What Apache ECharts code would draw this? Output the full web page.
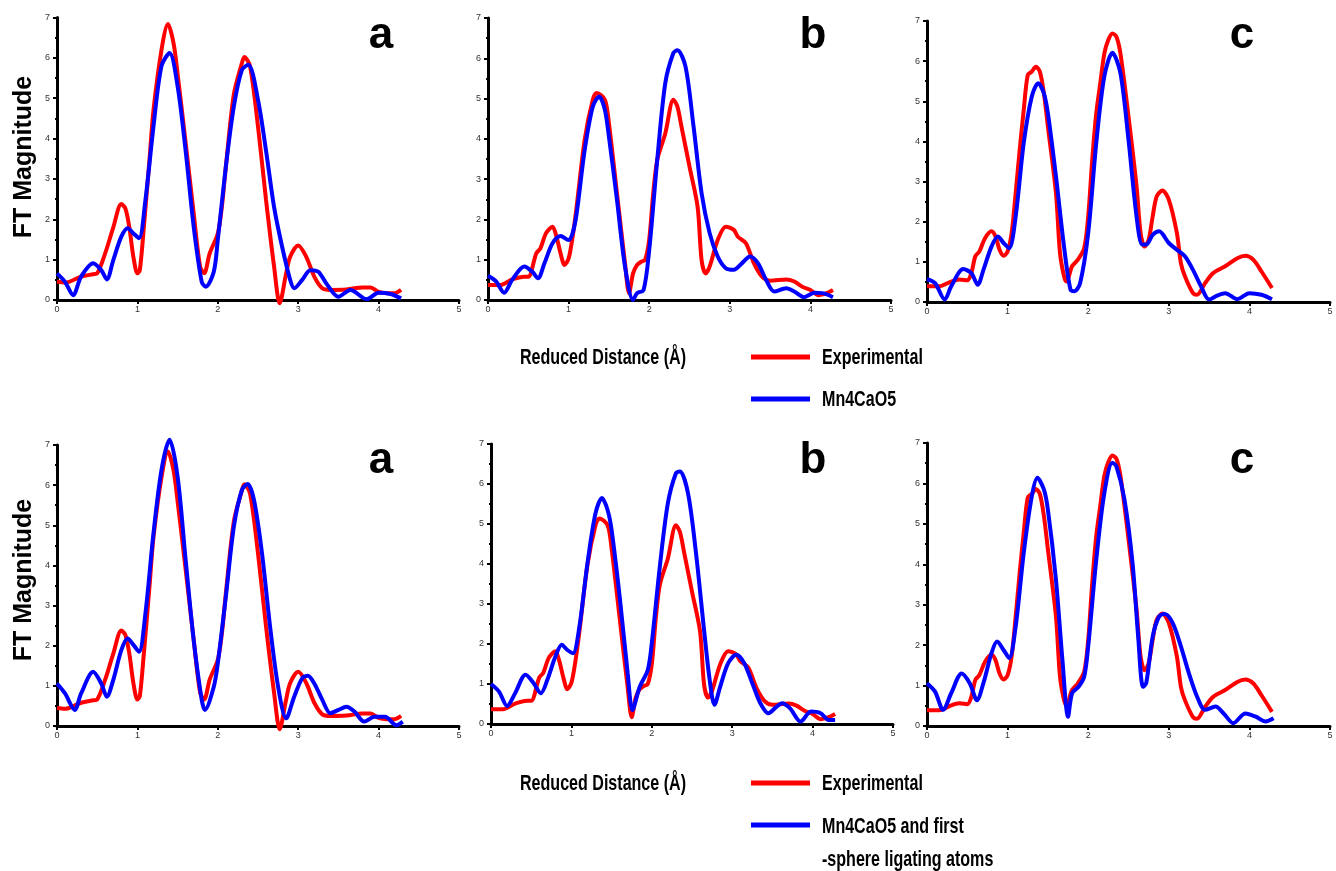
<!DOCTYPE html>
<html>
<head>
<meta charset="utf-8">
<script src="https://cdn.jsdelivr.net/npm/echarts@6/dist/echarts.min.js"></script>
<style>html,body{margin:0;padding:0;background:#fff;}#c{width:1336px;height:871px;}</style>
</head>
<body>
<div id="c"></div>
<script>
// ---- data (x = reduced distance in Å, y = FT magnitude) ----
var expA = [[0,0.45],[0.1,0.43],[0.3,0.58],[0.45,0.64],[0.5,0.66],[0.6,1.16],[0.7,1.8],[0.8,2.38],[0.85,2.27],[0.9,1.8],[0.95,1.07],[1.0,0.66],[1.03,0.74],[1.08,1.8],[1.15,3.47],[1.2,4.7],[1.3,6.2],[1.38,6.84],[1.45,6.36],[1.5,5.6],[1.6,3.9],[1.7,2.15],[1.78,0.83],[1.83,0.66],[1.9,1.16],[2.0,1.65],[2.05,2.3],[2.1,3.3],[2.2,5.1],[2.3,5.87],[2.33,6.02],[2.4,5.8],[2.5,4.3],[2.6,2.48],[2.7,0.83],[2.77,-0.08],[2.85,0.66],[2.9,1.07],[3.0,1.35],[3.1,1.07],[3.2,0.58],[3.3,0.29],[3.4,0.25],[3.6,0.26],[3.8,0.31],[3.9,0.31],[4.0,0.2],[4.1,0.17],[4.2,0.17],[4.28,0.25]];
var expB = [[0,0.37],[0.15,0.37],[0.3,0.51],[0.45,0.58],[0.5,0.58],[0.6,1.16],[0.65,1.28],[0.72,1.66],[0.8,1.82],[0.85,1.57],[0.9,1.16],[0.95,0.87],[1.0,1.03],[1.05,1.57],[1.1,2.32],[1.2,3.98],[1.3,4.97],[1.35,5.14],[1.45,4.97],[1.5,4.39],[1.6,2.65],[1.7,0.91],[1.75,0.17],[1.8,0.66],[1.85,0.87],[1.9,0.95],[1.95,1.0],[2.0,1.5],[2.05,2.65],[2.1,3.48],[2.2,4.14],[2.3,4.97],[2.35,4.8],[2.4,4.31],[2.5,3.31],[2.6,2.32],[2.65,0.99],[2.7,0.66],[2.75,0.83],[2.85,1.49],[2.95,1.82],[3.05,1.74],[3.1,1.57],[3.2,1.41],[3.3,0.91],[3.4,0.58],[3.5,0.48],[3.7,0.51],[3.8,0.46],[3.9,0.33],[4.0,0.25],[4.1,0.12],[4.2,0.17],[4.28,0.25]];
var expC = [[0,0.39],[0.15,0.39],[0.3,0.51],[0.4,0.56],[0.5,0.54],[0.55,0.72],[0.6,1.14],[0.65,1.26],[0.72,1.59],[0.8,1.76],[0.85,1.63],[0.9,1.3],[0.95,1.15],[1.0,1.26],[1.05,1.72],[1.1,2.71],[1.15,3.79],[1.2,4.78],[1.25,5.65],[1.3,5.74],[1.35,5.86],[1.4,5.74],[1.45,5.2],[1.5,4.37],[1.6,2.71],[1.65,1.22],[1.7,0.64],[1.73,0.51],[1.8,0.89],[1.87,1.05],[1.95,1.34],[2.0,2.13],[2.05,3.54],[2.1,4.7],[2.15,5.45],[2.2,6.19],[2.25,6.53],[2.3,6.69],[2.35,6.61],[2.4,6.19],[2.5,4.62],[2.6,2.88],[2.65,1.72],[2.7,1.38],[2.75,1.55],[2.8,2.13],[2.85,2.63],[2.92,2.78],[3.0,2.55],[3.1,1.72],[3.15,0.97],[3.2,0.64],[3.3,0.22],[3.35,0.18],[3.45,0.47],[3.55,0.72],[3.7,0.89],[3.85,1.09],[3.95,1.15],[4.05,1.05],[4.15,0.76],[4.28,0.35]];

var modA1 = [[0,0.66],[0.1,0.45],[0.2,0.12],[0.3,0.58],[0.45,0.91],[0.55,0.74],[0.62,0.51],[0.7,0.99],[0.8,1.57],[0.88,1.78],[0.95,1.65],[1.02,1.53],[1.1,2.48],[1.2,4.3],[1.3,5.8],[1.4,6.12],[1.5,5.3],[1.6,3.7],[1.7,1.82],[1.8,0.45],[1.85,0.33],[1.95,0.7],[2.0,1.49],[2.1,3.3],[2.2,4.8],[2.3,5.7],[2.38,5.83],[2.5,4.96],[2.6,3.7],[2.7,2.3],[2.8,1.32],[2.9,0.5],[2.95,0.29],[3.05,0.5],[3.15,0.74],[3.25,0.7],[3.35,0.41],[3.5,0.08],[3.65,0.25],[3.85,0.02],[4.0,0.18],[4.15,0.15],[4.28,0.04]];
var modB1 = [[0,0.6],[0.1,0.46],[0.2,0.18],[0.3,0.5],[0.45,0.83],[0.55,0.7],[0.62,0.54],[0.7,0.91],[0.8,1.41],[0.9,1.59],[1.0,1.49],[1.05,1.66],[1.1,2.15],[1.2,3.73],[1.3,4.8],[1.38,5.05],[1.45,4.72],[1.5,4.06],[1.6,2.49],[1.7,0.83],[1.8,0.0],[1.85,0.17],[1.93,0.25],[2.0,1.24],[2.1,3.48],[2.2,5.39],[2.3,6.13],[2.35,6.2],[2.45,5.8],[2.55,4.31],[2.65,2.65],[2.75,1.66],[2.85,1.08],[2.95,0.79],[3.05,0.75],[3.15,0.91],[3.25,1.08],[3.35,0.91],[3.45,0.5],[3.55,0.21],[3.7,0.29],[3.8,0.21],[3.92,0.07],[4.05,0.18],[4.15,0.17],[4.28,0.07]];
var modC1 = [[0,0.57],[0.1,0.47],[0.22,0.06],[0.3,0.39],[0.45,0.82],[0.55,0.72],[0.63,0.43],[0.7,0.8],[0.8,1.38],[0.88,1.63],[0.95,1.47],[1.02,1.34],[1.1,2.13],[1.2,3.96],[1.3,5.12],[1.38,5.45],[1.45,5.2],[1.5,4.7],[1.6,3.13],[1.7,1.38],[1.78,0.31],[1.83,0.27],[1.9,0.47],[2.0,1.72],[2.1,3.96],[2.2,5.62],[2.3,6.21],[2.4,5.7],[2.5,4.04],[2.6,2.13],[2.67,1.43],[2.72,1.43],[2.8,1.67],[2.88,1.76],[3.0,1.47],[3.1,1.3],[3.2,1.14],[3.3,0.8],[3.4,0.39],[3.5,0.06],[3.6,0.16],[3.7,0.22],[3.85,0.07],[4.0,0.22],[4.15,0.18],[4.28,0.07]];

var modA2 = [[0,1.06],[0.1,0.81],[0.22,0.4],[0.3,0.81],[0.45,1.35],[0.55,1.06],[0.62,0.73],[0.7,1.15],[0.8,1.89],[0.88,2.18],[0.95,2.02],[1.02,1.85],[1.1,2.81],[1.2,4.8],[1.3,6.38],[1.4,7.13],[1.5,6.21],[1.6,4.14],[1.7,2.14],[1.8,0.65],[1.84,0.4],[1.95,0.98],[2.0,1.56],[2.1,3.22],[2.2,4.97],[2.3,5.88],[2.37,6.03],[2.45,5.63],[2.55,4.3],[2.65,2.48],[2.75,0.98],[2.85,0.19],[2.95,0.73],[3.05,1.19],[3.12,1.25],[3.2,1.06],[3.3,0.65],[3.4,0.32],[3.5,0.4],[3.6,0.48],[3.7,0.36],[3.82,0.11],[3.95,0.23],[4.08,0.23],[4.22,0.02],[4.3,0.11]];
var modB2 = [[0,1.0],[0.1,0.81],[0.2,0.45],[0.3,0.77],[0.43,1.23],[0.53,1.02],[0.62,0.77],[0.7,1.1],[0.8,1.68],[0.88,1.98],[0.95,1.85],[1.02,1.77],[1.1,2.44],[1.2,4.02],[1.3,5.27],[1.38,5.65],[1.45,5.35],[1.5,4.85],[1.6,3.19],[1.7,1.27],[1.76,0.35],[1.85,0.93],[1.95,1.35],[2.0,2.02],[2.1,3.94],[2.2,5.52],[2.3,6.27],[2.35,6.31],[2.45,5.77],[2.55,4.27],[2.65,2.35],[2.72,1.1],[2.78,0.48],[2.85,0.93],[2.95,1.52],[3.05,1.73],[3.15,1.52],[3.25,1.02],[3.35,0.52],[3.45,0.27],[3.55,0.43],[3.62,0.52],[3.72,0.39],[3.85,0.06],[3.98,0.31],[4.1,0.27],[4.2,0.1],[4.28,0.1]];
var modC2 = [[0,1.06],[0.1,0.85],[0.2,0.4],[0.3,0.81],[0.43,1.3],[0.53,1.06],[0.62,0.64],[0.7,1.06],[0.8,1.8],[0.87,2.09],[0.95,1.88],[1.02,1.68],[1.1,2.46],[1.2,4.28],[1.3,5.68],[1.37,6.14],[1.45,5.85],[1.5,5.35],[1.6,3.62],[1.68,1.64],[1.75,0.23],[1.8,0.81],[1.88,0.97],[1.95,1.22],[2.0,1.97],[2.1,4.11],[2.2,5.76],[2.3,6.51],[2.35,6.42],[2.45,5.6],[2.55,4.03],[2.62,2.21],[2.68,0.97],[2.72,1.06],[2.8,2.21],[2.88,2.71],[2.95,2.77],[3.05,2.54],[3.15,1.97],[3.25,1.3],[3.35,0.73],[3.45,0.4],[3.58,0.48],[3.68,0.31],[3.8,0.07],[3.95,0.31],[4.08,0.23],[4.2,0.11],[4.3,0.19]];

var panelLetters = ['a', 'b', 'c', 'a', 'b', 'c'];
var legendTop = ['Experimental', 'Mn4CaO5'];
var legendBottom = ['Experimental', 'Mn4CaO5 and first', '-sphere ligating atoms'];
var xTitle = 'Reduced Distance (\u00c5)';
var yTitle = 'FT Magnitude';

// ---- layout ----
var grids = [
  {left: 57, top: 17.5, width: 402, height: 282.5},
  {left: 488, top: 18, width: 403, height: 282},
  {left: 927, top: 21, width: 403, height: 281},
  {left: 57, top: 445, width: 402, height: 281},
  {left: 491, top: 444, width: 402, height: 280},
  {left: 927, top: 443, width: 403, height: 283}
];
var expSets = [expA, expB, expC, expA, expB, expC];
var modSets = [modA1, modB1, modC1, modA2, modB2, modC2];
var letterPos = [[381, 36], [813, 36], [1242, 36], [381, 461], [813, 461], [1242, 461]];

var FONT = 'Liberation Sans, Arial, sans-serif';
var xAxes = [], yAxes = [], series = [];
grids.forEach(function (g, i) {
  xAxes.push({
    gridIndex: i, type: 'value', min: 0, max: 5, interval: 1,
    axisLine: {show: true, onZero: false, lineStyle: {color: '#000', width: 3}},
    axisTick: {show: true, length: 4, lineStyle: {color: '#000', width: 2}},
    minorTick: {show: true, splitNumber: 2, length: 2, lineStyle: {color: '#000', width: 2}},
    axisLabel: {fontSize: 9, color: '#333', margin: 5, fontFamily: FONT},
    splitLine: {show: false}
  });
  yAxes.push({
    gridIndex: i, type: 'value', min: 0, max: 7, interval: 1,
    axisLine: {show: true, onZero: false, lineStyle: {color: '#000', width: 3}},
    axisTick: {show: true, length: 4, lineStyle: {color: '#000', width: 2}},
    minorTick: {show: true, splitNumber: 2, length: 2, lineStyle: {color: '#000', width: 2}},
    axisLabel: {fontSize: 9, color: '#333', margin: 7, fontFamily: FONT},
    splitLine: {show: false}
  });
  series.push({
    type: 'line', xAxisIndex: i, yAxisIndex: i, data: expSets[i],
    showSymbol: false, smooth: 0.3, clip: false,
    lineStyle: {color: '#ff0000', width: 4}, z: 2
  });
  series.push({
    type: 'line', xAxisIndex: i, yAxisIndex: i, data: modSets[i],
    showSymbol: false, smooth: 0.3, clip: false,
    lineStyle: {color: '#0000ff', width: 4}, z: 3
  });
});

var graphics = [];
panelLetters.forEach(function (t, i) {
  graphics.push({type: 'text', x: letterPos[i][0], y: letterPos[i][1],
    style: {text: t, fontSize: 44, fontWeight: 'bold', fontFamily: FONT, fill: '#000',
      textAlign: 'center', textVerticalAlign: 'middle', verticalAlign: 'middle'}});
});
[157, 580].forEach(function (cy) {
  graphics.push({type: 'text', x: 24, y: cy, rotation: Math.PI / 2,
    style: {text: yTitle, fontSize: 25, fontWeight: 'bold', fontFamily: FONT, fill: '#000',
      textAlign: 'center', textVerticalAlign: 'middle', verticalAlign: 'middle'}});
});
function narrowText(txt, x, y) {
  return {type: 'text', x: x, y: y, scaleX: 0.73, scaleY: 1,
    style: {text: txt, fontSize: 22, fontWeight: 'bold', fontFamily: FONT, fill: '#000',
      textAlign: 'left', textVerticalAlign: 'middle', verticalAlign: 'middle'}};
}
// x-axis titles
graphics.push(narrowText(xTitle, 520, 358));
graphics.push(narrowText(xTitle, 520, 784));
// legends
function legLine(y, color) {
  return {type: 'line', shape: {x1: 751, y1: y, x2: 810, y2: y}, style: {stroke: color, lineWidth: 5}};
}
graphics.push(legLine(357, '#ff0000'));
graphics.push(legLine(399, '#0000ff'));
graphics.push(narrowText(legendTop[0], 822, 358));
graphics.push(narrowText(legendTop[1], 822, 400));
graphics.push(legLine(783, '#ff0000'));
graphics.push(legLine(825, '#0000ff'));
graphics.push(narrowText(legendBottom[0], 822, 784));
graphics.push(narrowText(legendBottom[1], 822, 827));
graphics.push(narrowText(legendBottom[2], 822, 860));

var chart = echarts.init(document.getElementById('c'), null, {renderer: 'canvas'});
chart.setOption({
  animation: false,
  backgroundColor: '#fff',
  grid: grids.map(function (g) { return Object.assign({containLabel: false}, g); }),
  xAxis: xAxes,
  yAxis: yAxes,
  series: series,
  graphic: graphics
});
</script>
</body>
</html>
